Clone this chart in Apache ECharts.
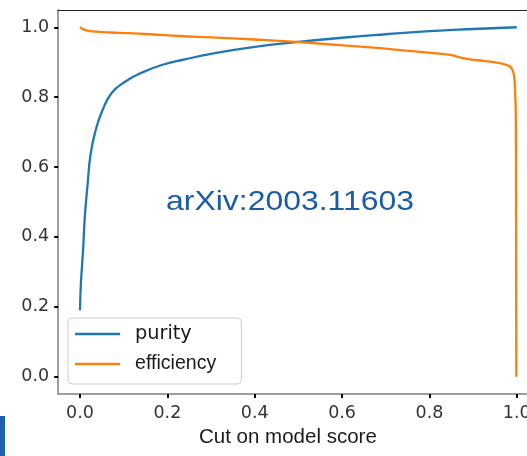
<!DOCTYPE html>
<html>
<head>
<meta charset="utf-8">
<script src="https://cdn.jsdelivr.net/npm/echarts@6/dist/echarts.min.js"></script>
<style>
  html, body { margin: 0; padding: 0; background: #fff; }
  #chart { width: 527px; height: 456px; }
</style>
</head>
<body>
<div id="chart"></div>
<script>
// Purity vs. cut on the model score
const purityCut = [0, 0.002, 0.007, 0.011, 0.0175, 0.024, 0.034, 0.05, 0.072, 0.103, 0.141, 0.187, 0.24, 0.3, 0.4, 0.5, 0.6, 0.7, 0.8, 0.9, 1.0];
const purity    = [0.19, 0.267, 0.363, 0.458, 0.553, 0.635, 0.697, 0.758, 0.811, 0.844, 0.870, 0.892, 0.908, 0.924, 0.944, 0.958, 0.970, 0.980, 0.989, 0.995, 1.0];

// Efficiency vs. cut on the model score
const efficiencyCut = [0, 0.005, 0.012, 0.023, 0.045, 0.069, 0.11, 0.16, 0.229, 0.3, 0.4, 0.496, 0.595, 0.672, 0.748, 0.809, 0.847, 0.870, 0.893, 0.924, 0.954, 0.977, 0.988, 0.994, 0.996, 0.998, 0.999];
const efficiency    = [1.0, 0.996, 0.992, 0.989, 0.987, 0.985, 0.983, 0.980, 0.975, 0.971, 0.965, 0.958, 0.949, 0.942, 0.933, 0.926, 0.921, 0.914, 0.908, 0.904, 0.899, 0.892, 0.883, 0.859, 0.821, 0.735, 0.0];

const xTicks = [0, 0.2, 0.4, 0.6, 0.8, 1.0];
const yTicks = [0, 0.2, 0.4, 0.6, 0.8, 1.0];

const seriesNames = ['purity', 'efficiency'];

const zip = (xs, ys) => xs.map((x, i) => [x, ys[i]]);

const tickFont = 'DejaVu Sans';
const fmt = v => Number(v).toFixed(1);

const chart = echarts.init(document.getElementById('chart'), null, { renderer: 'canvas' });

chart.setOption({
  animation: false,
  backgroundColor: '#ffffff',
  // the axes box runs past the right edge of the page; keep it from being squeezed in
  grid: {
    left: 58.2, top: 9.8, width: 480.4, height: 384.3,
    containLabel: false, outerBoundsMode: 'none'
  },
  xAxis: [
    {
      type: 'value',
      min: -0.05,
      max: 1.05,
      splitLine: { show: false },
      axisLine: { show: true, onZero: false, lineStyle: { color: '#808080', width: 1.5 } },
      axisTick: { show: true, customValues: xTicks, length: 4, lineStyle: { color: '#000', width: 2 } },
      axisLabel: {
        customValues: xTicks, formatter: fmt, margin: 10,
        fontFamily: tickFont, fontSize: 17.5, color: '#333'
      },
      name: 'Cut on model score',
      nameLocation: 'middle',
      nameGap: 31,
      nameTextStyle: {
        fontFamily: 'Liberation Sans', fontSize: 20.5, color: '#1a1a1a',
        padding: [0, 21, 0, 0]
      }
    },
    {
      type: 'value',
      position: 'top',
      min: -0.05,
      max: 1.05,
      splitLine: { show: false },
      axisLine: { show: true, onZero: false, lineStyle: { color: '#222', width: 1.2 } },
      axisTick: { show: false },
      axisLabel: { show: false }
    }
  ],
  yAxis: {
    type: 'value',
    min: -0.05,
    max: 1.05,
    splitLine: { show: false },
    axisLine: { show: true, onZero: false, lineStyle: { color: '#808080', width: 1.5 } },
    axisTick: { show: true, customValues: yTicks, length: 4, lineStyle: { color: '#000', width: 2 } },
    axisLabel: {
      customValues: yTicks, formatter: fmt, margin: 9,
      fontFamily: tickFont, fontSize: 17.5, color: '#333'
    }
  },
  legend: {
    data: seriesNames,
    orient: 'vertical',
    left: 68,
    top: 318,
    icon: 'rect',
    itemWidth: 45,
    itemHeight: 2.5,
    itemGap: 8,
    padding: [5, 25, 9, 7],
    borderColor: '#cccccc',
    borderWidth: 1,
    borderRadius: 4,
    backgroundColor: 'rgba(255,255,255,0.85)',
    formatter: name => `{${name}|${name}}`,
    textStyle: {
      lineHeight: 22,
      padding: [0, 0, 0, 10],
      rich: {
        purity: { fontFamily: 'DejaVu Sans', fontSize: 19.3, color: '#1a1a1a' },
        efficiency: { fontFamily: 'Liberation Sans', fontSize: 19.6, color: '#1a1a1a' }
      }
    }
  },
  series: [
    {
      name: seriesNames[0],
      type: 'line',
      data: zip(purityCut, purity),
      showSymbol: false,
      smooth: 0.5,
      lineStyle: { color: '#1f77b4', width: 2.3 },
      itemStyle: { color: '#1f77b4' },
      z: 3
    },
    {
      name: seriesNames[1],
      type: 'line',
      data: zip(efficiencyCut, efficiency),
      showSymbol: false,
      smooth: 0.5,
      lineStyle: { color: '#ff7f0e', width: 2.3 },
      itemStyle: { color: '#ff7f0e' },
      z: 3
    }
  ],
  graphic: [
    {
      type: 'text',
      x: 290,
      y: 202,
      scaleX: 1.14,
      style: {
        text: 'arXiv:2003.11603',
        font: '28px "Liberation Sans"',
        fill: '#1a5ca8',
        textAlign: 'center',
        textVerticalAlign: 'middle'
      },
      z: 10
    },
    {
      type: 'rect',
      left: 0,
      top: 416,
      shape: { width: 5, height: 40 },
      style: { fill: '#1f5fb0' }
    }
  ]
});
</script>
</body>
</html>
